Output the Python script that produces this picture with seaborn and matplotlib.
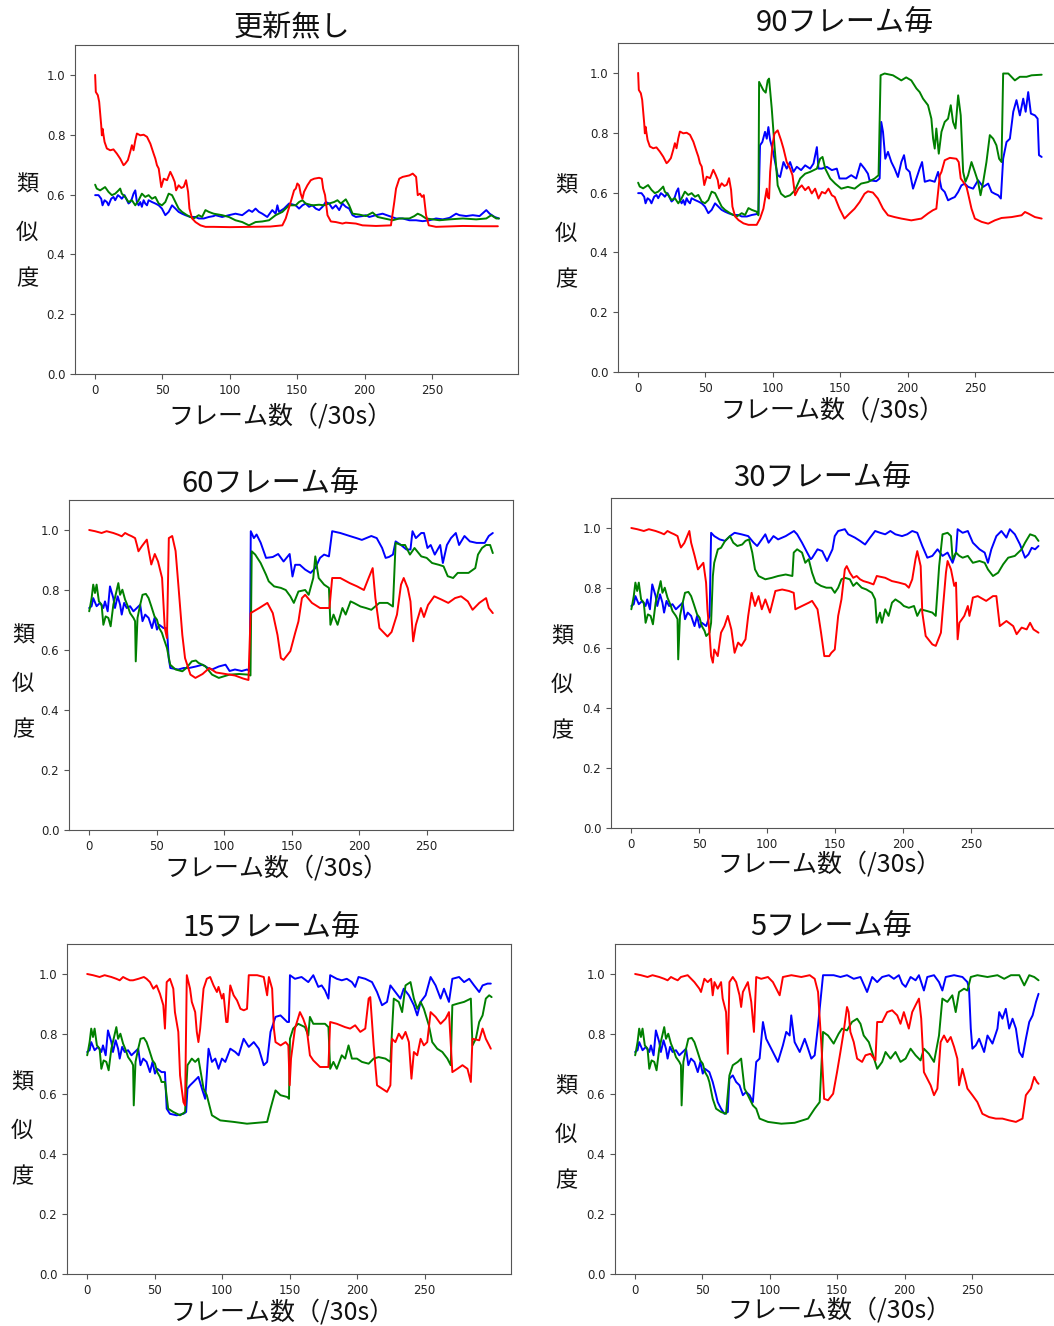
import matplotlib
matplotlib.use("Agg")
import matplotlib.pyplot as plt
import seaborn as sns
import pandas as pd

# ---------------- data: (frame, similarity) pairs ----------------
TITLES = ["更新無し", "90フレーム毎", "60フレーム毎", "30フレーム毎", "15フレーム毎", "5フレーム毎"]
XLABEL = "フレーム数（/30s）"
YLABEL_CHARS = ["類", "似", "度"]
XTICKS = [0, 50, 100, 150, 200, 250]
YTICKS = [0.0, 0.2, 0.4, 0.6, 0.8, 1.0]
YTICK_LABELS = ["0.0", "0.2", "0.4", "0.6", "0.8", "1.0"]

# common start of panels 1-2
A_RED = [(0,1.0),(0.5,0.943),(2,0.932),(3,0.91),(4.5,0.832),(5,0.798),(5.5,0.82),(7,0.776),(8.7,0.754),(11.2,0.748),(13.6,0.751),(16.1,0.737),(18.6,0.72),(21.1,0.698),(22.3,0.703),(24.3,0.715),(26,0.742),(27.3,0.765),(28.5,0.748),(29.8,0.781),(31,0.804),(33.5,0.798),(36,0.8),(38.5,0.793),(41,0.77),(43.4,0.737),(44.7,0.72),(45.9,0.698),(47.2,0.687),(48.4,0.648),(49.1,0.625),(50.9,0.653),(53.4,0.648),(55.8,0.676),(57.6,0.659),(59.1,0.642),(60.1,0.614),(62,0.631),(64,0.622),(65.8,0.626),(67.5,0.648),(69,0.609),(70,0.553),(72,0.52),(74.5,0.508),(78.2,0.497),(81.9,0.492),(88,0.492)]
A_BLUE = [(0,0.598),(2.5,0.598),(4.5,0.586),(5.5,0.564),(7,0.581),(8.7,0.575),(9.9,0.564),(11.9,0.586),(13.6,0.592),(14.9,0.581),(16.9,0.598),(18.6,0.592),(19.8,0.586),(21.8,0.598),(23.6,0.581),(24.8,0.57),(26.1,0.575),(27.3,0.586),(28.5,0.603),(29.8,0.614),(31,0.575),(32.3,0.564),(33.5,0.575),(34.7,0.559),(36,0.581),(37.2,0.57),(38.5,0.564),(39.7,0.581),(42.2,0.575),(44.7,0.57),(47.2,0.564),(49.6,0.553),(52.1,0.531),(54.6,0.542),(57.1,0.564),(59.6,0.553),(62,0.542),(64.5,0.536),(67,0.531),(70.7,0.525),(74.5,0.525),(76.9,0.52),(80.7,0.52),(84.4,0.525),(88,0.528)]
A_GREEN = [(0,0.633),(1.2,0.62),(3.7,0.614),(7.4,0.625),(9.9,0.609),(12.4,0.598),(14.9,0.603),(17.4,0.614),(18.6,0.62),(19.8,0.603),(22.3,0.592),(24.8,0.575),(27.3,0.581),(29.8,0.564),(32.3,0.581),(34.7,0.603),(37.2,0.592),(39.7,0.598),(42.2,0.586),(44.7,0.592),(47.2,0.57),(49.6,0.564),(52.1,0.575),(54.6,0.603),(57.1,0.598),(59.6,0.575),(62,0.553),(64.5,0.542),(68.2,0.531),(70.7,0.525),(73.2,0.52),(76.9,0.531),(79.4,0.525),(81.9,0.548),(84.4,0.542),(88,0.536)]

P1_RED_TAIL = [(100,0.491),(115,0.492),(130,0.493),(139,0.497),(141.5,0.52),(145.2,0.575),(147.7,0.614),(149,0.62),(150.1,0.637),(151.4,0.631),(152.6,0.603),(153.9,0.586),(155.1,0.609),(157.6,0.631),(160.1,0.648),(162.6,0.653),(166.3,0.656),(168.3,0.653),(169.3,0.62),(170.7,0.598),(172.5,0.531),(175,0.51),(178.7,0.508),(183.6,0.503),(186.1,0.506),(193.6,0.503),(198.5,0.497),(208.5,0.495),(219.6,0.497),(222.1,0.575),(223.4,0.62),(225.8,0.653),(228.3,0.659),(233.3,0.664),(235.8,0.67),(238.3,0.659),(239.5,0.598),(241.2,0.603),(242.7,0.592),(244,0.598),(245.7,0.531),(247.7,0.497),(253.1,0.492),(273,0.495),(287.9,0.494),(299,0.494)]
P1_BLUE_TAIL = [(89.3,0.531),(94.3,0.525),(99.3,0.531),(104.2,0.536),(109.2,0.531),(114.2,0.548),(116.6,0.542),(119.1,0.553),(121.6,0.542),(124.1,0.536),(127.8,0.525),(131.5,0.548),(134,0.536),(135.3,0.564),(136.5,0.542),(140.2,0.553),(144,0.57),(148.9,0.564),(151.4,0.553),(153.9,0.564),(156.3,0.57),(158.8,0.559),(161.3,0.564),(163.8,0.553),(166.3,0.548),(168.8,0.559),(171.2,0.575),(173.7,0.57),(176.2,0.553),(178.7,0.564),(181.2,0.548),(183.6,0.57),(186.1,0.559),(188.6,0.553),(191.1,0.531),(193.6,0.525),(198.5,0.528),(201,0.531),(203.5,0.525),(208.5,0.531),(213.4,0.536),(218.4,0.528),(223.4,0.52),(228.3,0.52),(233.3,0.514),(238.3,0.514),(243.2,0.511),(248.2,0.514),(253.1,0.52),(258.1,0.517),(263.1,0.522),(268,0.536),(270.5,0.531),(275.5,0.528),(280.4,0.531),(285.4,0.528),(290.4,0.548),(292.9,0.536),(296.6,0.525),(299.8,0.52)]
P1_GREEN_TAIL = [(94.3,0.531),(99.3,0.525),(104.2,0.514),(109.2,0.508),(114.2,0.497),(119.1,0.508),(124.1,0.51),(129.1,0.514),(134,0.531),(139,0.542),(144,0.564),(148.9,0.564),(151.4,0.575),(153.9,0.581),(156.3,0.57),(161.3,0.564),(166.3,0.566),(170,0.564),(173.7,0.57),(177.4,0.575),(179.9,0.581),(182.4,0.57),(186.1,0.584),(188.6,0.564),(191.1,0.536),(196.1,0.533),(201,0.528),(206,0.54),(209.7,0.525),(214.7,0.52),(220.9,0.514),(225.8,0.52),(233.3,0.52),(237,0.528),(239.5,0.536),(242,0.531),(245.7,0.52),(250.7,0.517),(255.6,0.514),(263.1,0.517),(273,0.52),(282.9,0.517),(290.4,0.52),(294.1,0.531),(297.8,0.52),(299.8,0.52)]

P2_RED_TAIL = [(90.5,0.513),(93,0.546),(95.5,0.613),(96.2,0.585),(97.2,0.58),(98,0.669),(99.7,0.758),(101.2,0.797),(103.6,0.808),(106.1,0.775),(107.9,0.747),(110.3,0.702),(112.8,0.68),(114.6,0.658),(116.5,0.591),(119,0.613),(121.5,0.624),(124,0.608),(126.5,0.619),(128.9,0.597),(131.4,0.613),(133.9,0.58),(136.4,0.602),(138.9,0.597),(141.3,0.613),(143.8,0.591),(146,0.585),(149.5,0.546),(153.2,0.513),(157,0.53),(160.7,0.546),(164.4,0.568),(168.1,0.596),(170.6,0.604),(174.3,0.6),(178,0.58),(181.8,0.546),(185.5,0.524),(190.4,0.518),(195.4,0.513),(202.8,0.507),(210.3,0.513),(215.2,0.53),(218.9,0.541),(221.4,0.546),(224,0.658),(225.2,0.669),(227.6,0.708),(231.4,0.716),(236.3,0.713),(238,0.702),(239.5,0.647),(241.3,0.636),(243.8,0.619),(245,0.596),(247.5,0.546),(250,0.513),(255,0.502),(259.9,0.496),(264.8,0.507),(269.8,0.515),(277.3,0.518),(284.7,0.524),(287.2,0.535),(289.6,0.53),(294.6,0.518),(299.6,0.513)]
P2_BLUE_TAIL = [(89.3,0.53),(90.5,0.758),(92.2,0.769),(94.2,0.803),(95.5,0.78),(96.7,0.819),(98,0.775),(99.7,0.747),(101.7,0.702),(103.6,0.658),(105.4,0.652),(107.9,0.702),(110.3,0.68),(112.8,0.702),(115.3,0.669),(117.8,0.686),(121,0.675),(124,0.691),(127.7,0.68),(130.2,0.697),(132.7,0.752),(133.9,0.68),(136.4,0.68),(140.1,0.686),(143.8,0.675),(147.5,0.68),(149.5,0.647),(154.5,0.647),(158.2,0.658),(161.9,0.647),(165.1,0.697),(168.1,0.68),(170.6,0.663),(171.8,0.641),(176.8,0.638),(179.3,0.647),(180.5,0.836),(181.8,0.803),(183.5,0.713),(185.5,0.736),(188,0.702),(190.4,0.68),(192.9,0.652),(195.4,0.702),(197.4,0.725),(199.1,0.68),(201.6,0.669),(204.1,0.613),(206.6,0.647),(209,0.68),(210.8,0.702),(212.8,0.636),(216.5,0.641),(220.2,0.636),(222.7,0.669),(225.2,0.613),(227.6,0.602),(230.1,0.574),(232.6,0.58),(235.1,0.585),(237.6,0.602),(240,0.624),(242.5,0.63),(245,0.619),(248.7,0.613),(252.4,0.641),(256.2,0.619),(259.9,0.63),(262.4,0.602),(264.8,0.596),(267.3,0.591),(269.3,0.58),(271,0.713),(273.5,0.769),(276,0.78),(278.5,0.87),(280.9,0.909),(283.4,0.858),(285.9,0.914),(287.7,0.87),(289.6,0.936),(291.6,0.864),(294.6,0.858),(296.6,0.847),(297.6,0.725),(299.6,0.719)]
P2_GREEN_TAIL = [(89.3,0.524),(89.8,0.97),(93,0.942),(94.7,0.934),(96.2,0.975),(97.2,0.981),(99.2,0.881),(101.2,0.758),(103.6,0.624),(106.1,0.596),(109.1,0.585),(112.8,0.591),(116.5,0.608),(120.3,0.647),(124,0.663),(127.7,0.669),(132.7,0.68),(135.1,0.713),(136.9,0.719),(138.9,0.68),(142.6,0.647),(146.3,0.63),(150.8,0.613),(155.7,0.619),(160.7,0.613),(165.6,0.63),(170.6,0.635),(175.6,0.647),(178.5,0.658),(180,0.992),(183,0.998),(189.2,0.992),(195.4,0.975),(199,0.985),(202.8,0.975),(206.6,0.948),(209,0.936),(211.5,0.914),(215.2,0.892),(217.7,0.847),(219,0.78),(220.2,0.747),(221.4,0.814),(223.2,0.73),(225.2,0.803),(227.6,0.836),(230.1,0.847),(232.1,0.892),(233.8,0.836),(235.6,0.814),(237.6,0.925),(239.5,0.858),(241.3,0.669),(243,0.636),(245,0.658),(247.5,0.702),(250,0.669),(252.4,0.636),(254.2,0.591),(256.2,0.636),(258.6,0.702),(261.1,0.792),(263.6,0.78),(266,0.758),(268,0.713),(269.8,0.702),(271,0.998),(274.8,0.998),(279.7,0.975),(283.4,0.987),(288.4,0.987),(292.1,0.992),(299.6,0.994)]

# common start of panels 3-6
B_RED = [(0,1.0),(4.3,0.996),(9.2,0.99),(12.9,0.996),(17.9,0.99),(21.6,0.984),(24.1,0.979),(26.6,0.99),(29.1,0.984),(31.6,0.979)]
B_BLUE = [(0,0.74),(1.8,0.746),(3,0.773),(5.5,0.746),(8,0.757),(10.5,0.74),(11.7,0.762),(13.7,0.729),(15.4,0.812),(17.9,0.773),(19.1,0.74),(21.1,0.779),(22.9,0.751),(24.1,0.718),(25.9,0.757),(27.8,0.74),(30.3,0.746),(32.8,0.729),(35.3,0.74),(37.8,0.751),(39.5,0.696),(41.5,0.718),(44,0.707),(46.5,0.673),(48.4,0.707),(50.2,0.668),(51.9,0.684),(55.1,0.673)]
B_GREEN = [(0,0.729),(0.5,0.74),(1.8,0.773),(3,0.818),(4.3,0.79),(5.5,0.818),(7.2,0.762),(9.2,0.751),(10.5,0.684),(12.2,0.712),(14.2,0.707),(15.9,0.679),(17.9,0.751),(19.6,0.784),(21.6,0.823),(22.9,0.784),(24.6,0.801),(26.6,0.768),(28.6,0.746),(30.3,0.723),(32.8,0.707),(34,0.696),(34.5,0.562),(35.8,0.707),(37.8,0.751),(39.5,0.784),(42,0.787),(44,0.773),(46,0.746),(48.4,0.712),(50.2,0.701),(51.9,0.673),(53.9,0.657),(55.1,0.64)]

P3_RED_TAIL = [(34,0.973),(35.3,0.951),(36.5,0.929),(39,0.946),(42.7,0.968),(44,0.934),(46,0.885),(48.6,0.92),(51,0.895),(54,0.84),(56,0.673),(57.6,0.64),(59,0.973),(61.5,0.98),(64,0.93),(66,0.82),(69,0.65),(71,0.573),(75,0.518),(78.7,0.507),(84,0.52),(89,0.54),(94,0.525),(101,0.52),(108,0.515),(114,0.505),(118,0.5),(119.6,0.723),(126,0.74),(132,0.757),(136,0.723),(139.5,0.65),(142,0.573),(144,0.567),(149,0.596),(152.6,0.657),(155,0.695),(157.6,0.773),(160,0.784),(165,0.757),(171,0.74),(178,0.74),(180,0.84),(186,0.84),(193,0.823),(198.5,0.812),(203.5,0.8),(207,0.84),(210,0.873),(212,0.773),(215,0.673),(221,0.645),(224,0.66),(228,0.718),(231,0.818),(233,0.84),(236,0.806),(238,0.762),(240,0.629),(242,0.684),(245.7,0.74),(248,0.71),(251,0.75),(255.6,0.779),(261,0.768),(266,0.757),(271,0.773),(275.5,0.779),(280.5,0.762),(284,0.734),(289,0.757),(294,0.773),(296,0.74),(299,0.723)]
P3_BLUE_TAIL = [(57.6,0.673),(58.9,0.573),(60.1,0.54),(66,0.535),(70,0.54),(74,0.54),(79,0.545),(84,0.551),(88,0.54),(91,0.535),(96,0.545),(101,0.551),(104,0.53),(108,0.535),(113,0.53),(117,0.535),(119,0.53),(119.7,0.996),(122,0.973),(124,0.985),(127,0.958),(131,0.907),(136,0.91),(140,0.92),(144,0.895),(148.5,0.92),(150.6,0.845),(152.6,0.884),(156,0.884),(160,0.868),(164,0.857),(167.5,0.873),(171,0.907),(174,0.918),(177.6,0.912),(180,0.996),(186,0.99),(193,0.98),(198,0.973),(202,0.967),(209,0.98),(213,0.973),(217,0.94),(219.6,0.907),(222,0.91),(225,0.918),(227,0.962),(231,0.95),(235,0.935),(238,0.935),(239.5,0.996),(242,0.973),(246,0.99),(248,0.99),(250.6,0.94),(253,0.95),(256,0.918),(260,0.95),(262,0.89),(265,0.95),(268,0.973),(271.6,0.99),(274,0.95),(278,0.98),(282,0.962),(287,0.957),(293,0.957),(296,0.98),(299,0.99)]
P3_GREEN_TAIL = [(57.6,0.607),(60,0.551),(64,0.535),(69,0.529),(72,0.54),(76,0.562),(79,0.565),(81,0.557),(86,0.546),(91,0.518),(96,0.507),(104,0.518),(111,0.52),(117.5,0.518),(119.5,0.515),(120.4,0.929),(123,0.918),(127,0.89),(131,0.851),(133,0.829),(137,0.812),(142,0.807),(145.6,0.8),(149,0.779),(151.6,0.757),(155,0.795),(160,0.8),(162.6,0.784),(166,0.84),(167.5,0.912),(170,0.84),(174,0.818),(177.6,0.807),(178.7,0.684),(181,0.718),(184,0.684),(187.6,0.74),(190,0.718),(193.6,0.762),(196,0.757),(201,0.745),(205,0.74),(209,0.734),(215,0.757),(221,0.757),(225,0.745),(227,0.957),(231,0.95),(234,0.95),(237.6,0.918),(241,0.94),(246,0.912),(250,0.907),(254,0.89),(259,0.884),(262.5,0.879),(265.6,0.846),(269.6,0.84),(273,0.857),(281,0.857),(286,0.873),(288,0.918),(291,0.94),(294,0.95),(297,0.95),(299,0.923)]

P4_RED_TAIL = [(34,0.973),(35.3,0.951),(36.5,0.935),(39,0.95),(42.7,0.99),(44,0.951),(46.6,0.907),(49,0.862),(53,0.884),(55,0.818),(56,0.729),(57.5,0.651),(58.7,0.573),(60,0.551),(61,0.595),(63.6,0.573),(66,0.651),(68.5,0.673),(71,0.707),(73.6,0.662),(76,0.584),(78.6,0.618),(81,0.607),(84,0.629),(86,0.707),(88.5,0.784),(91,0.74),(93.6,0.773),(96,0.729),(98.6,0.762),(102,0.718),(106,0.79),(111,0.795),(116,0.79),(119.5,0.784),(120.7,0.729),(125.6,0.74),(130.6,0.751),(133,0.757),(137,0.729),(139.6,0.651),(142,0.573),(145.6,0.573),(147.2,0.584),(149.7,0.595),(152.2,0.707),(154.6,0.762),(157.1,0.862),(158.5,0.873),(160.8,0.851),(163.3,0.834),(165.8,0.84),(168.3,0.829),(170.8,0.823),(174.6,0.818),(178.2,0.812),(180.6,0.84),(186.8,0.834),(191.8,0.823),(196.8,0.818),(201.7,0.812),(204.2,0.801),(206.7,0.829),(209.1,0.896),(210.4,0.923),(212.9,0.873),(214.1,0.718),(216.6,0.64),(221.5,0.612),(224,0.607),(227.8,0.651),(229,0.718),(231.5,0.851),(232.7,0.89),(235.2,0.862),(237.6,0.807),(238.9,0.818),(240.1,0.629),(241.4,0.684),(245,0.707),(247.6,0.74),(248.8,0.707),(251.3,0.768),(254.9,0.773),(261.1,0.757),(266.1,0.773),(268.6,0.773),(271.1,0.673),(276,0.69),(281,0.673),(283.5,0.646),(287.2,0.668),(290.9,0.662),(293.4,0.684),(295.9,0.662),(299.6,0.651)]
P4_BLUE_TAIL = [(57.6,0.707),(58.7,0.984),(61,0.973),(65,0.962),(69,0.957),(72.6,0.973),(76,0.984),(81,0.979),(86,0.973),(90,0.951),(92.6,0.94),(96,0.962),(98.6,0.979),(101,0.951),(104.6,0.973),(108,0.962),(113.6,0.973),(119.7,0.99),(122,0.979),(125.6,0.951),(129.4,0.918),(132,0.896),(133,0.9),(137,0.929),(140.5,0.923),(144,0.89),(148,0.929),(149.7,0.973),(152.2,0.99),(157.1,0.996),(159.6,0.979),(164.5,0.968),(168.3,0.957),(172,0.945),(175.7,0.968),(179.4,0.99),(183.1,0.984),(186.8,0.979),(190.6,0.99),(194.3,0.979),(199.2,0.973),(203,0.979),(206.7,0.99),(210.4,0.984),(214.1,0.94),(217.8,0.901),(221.5,0.907),(225.3,0.929),(229,0.907),(232.7,0.918),(236.4,0.884),(238.9,0.918),(240.1,0.996),(243.8,0.984),(247.6,0.99),(251.3,0.951),(256.2,0.929),(260,0.918),(262.4,0.884),(264.9,0.929),(268.6,0.973),(272.3,0.99),(276,0.968),(278.5,0.996),(282.2,0.979),(286,0.945),(289.7,0.901),(292.2,0.912),(294.6,0.934),(297.1,0.929),(299.6,0.94)]
P4_GREEN_TAIL = [(57.5,0.651),(58.7,0.684),(60,0.84),(61,0.884),(63.7,0.929),(66,0.934),(69,0.957),(72.6,0.973),(75,0.951),(78,0.94),(81.6,0.945),(84,0.957),(86.6,0.962),(89,0.918),(91,0.862),(93.6,0.84),(98.6,0.829),(103.5,0.834),(108,0.84),(113.6,0.845),(118.5,0.84),(119.5,0.918),(122,0.929),(125.6,0.918),(128,0.884),(130.5,0.896),(133,0.851),(135.6,0.818),(139.6,0.807),(143.5,0.801),(147.2,0.801),(149.7,0.784),(152.2,0.801),(154.6,0.829),(157.1,0.834),(160.8,0.829),(163.3,0.807),(165.8,0.818),(169.5,0.801),(173,0.795),(177,0.784),(179.4,0.762),(180.6,0.684),(183,0.718),(184.4,0.684),(186.8,0.729),(189.3,0.707),(191.8,0.751),(194.3,0.762),(198,0.751),(200.5,0.74),(204.2,0.734),(208,0.74),(210.4,0.707),(212.9,0.729),(217.8,0.723),(221.5,0.718),(224,0.707),(226.5,0.873),(229,0.979),(232.7,0.984),(235.2,0.973),(236.4,0.896),(238.9,0.918),(241.4,0.907),(243.8,0.901),(247.6,0.907),(251.3,0.884),(256.2,0.89),(260,0.884),(262.4,0.862),(266.1,0.84),(269.9,0.851),(273.6,0.879),(277.3,0.901),(282.2,0.907),(287.2,0.929),(289.7,0.951),(293.4,0.979),(297.1,0.973),(299.6,0.957)]

P5_RED_TAIL = [(34,0.979),(38,0.984),(42,0.99),(44,0.984),(46.5,0.973),(49,0.951),(51.4,0.962),(53.9,0.934),(56.4,0.896),(57.6,0.818),(58.9,0.973),(61.3,0.984),(63.8,0.951),(65,0.873),(67.5,0.807),(68.8,0.662),(70,0.618),(71.3,0.573),(72.5,0.562),(73.8,0.996),(76.2,0.951),(77.5,0.907),(80,0.873),(81.2,0.807),(82.4,0.773),(83.7,0.818),(86.2,0.951),(88.6,0.984),(91.1,0.99),(93.6,0.962),(96.1,0.94),(97.3,0.957),(99.8,0.918),(101,0.934),(103,0.84),(104,0.84),(106,0.962),(108.5,0.929),(111,0.912),(113.5,0.884),(116,0.879),(118.4,0.884),(119.7,0.996),(125.9,0.996),(130.8,0.99),(133.3,0.929),(134.6,0.99),(137,0.951),(138.3,0.818),(139.5,0.773),(143.3,0.762),(147,0.773),(149,0.762),(150,0.629),(151,0.718),(153.9,0.818),(157.6,0.873),(160,0.851),(162.6,0.818),(165,0.729),(167.5,0.712),(172.5,0.69),(178.7,0.69),(180,0.84),(184.9,0.834),(191,0.823),(194.8,0.818),(198.5,0.829),(202.3,0.807),(206,0.818),(208.5,0.918),(209.7,0.923),(212.2,0.762),(214.7,0.629),(218.4,0.618),(222.1,0.607),(224.6,0.629),(225.8,0.784),(228.3,0.773),(230.8,0.801),(233.3,0.784),(235.8,0.807),(238.3,0.773),(240.2,0.651),(242,0.74),(244.5,0.729),(247,0.784),(249.4,0.762),(251.9,0.773),(254.4,0.873),(258.1,0.857),(261.8,0.834),(265.5,0.851),(268,0.873),(270.5,0.673),(274.2,0.684),(278,0.696),(281.7,0.684),(284.2,0.64),(285.4,0.784),(290.4,0.779),(292.9,0.818),(295.3,0.784),(297.8,0.762),(299,0.751)]
P5_BLUE_TAIL = [(57.6,0.673),(58.9,0.551),(61.3,0.534),(66.3,0.529),(71.3,0.534),(73.3,0.54),(74.3,0.618),(76.2,0.629),(78.7,0.64),(80,0.646),(82.4,0.657),(85,0.618),(87.4,0.584),(89.9,0.751),(92.4,0.707),(94.9,0.718),(97.3,0.684),(99.8,0.718),(102.3,0.707),(106,0.751),(109.7,0.74),(112.2,0.729),(115.9,0.784),(119.7,0.757),(123.4,0.773),(127.1,0.751),(130.8,0.696),(133.3,0.707),(135.8,0.807),(139.5,0.857),(143.2,0.862),(148.2,0.84),(149.5,0.84),(150.2,0.996),(153.9,0.984),(158.8,0.99),(163.8,0.973),(167.5,0.996),(171.2,0.957),(173.7,0.962),(176.2,0.945),(178.7,0.918),(180,0.996),(184.9,0.984),(188.6,0.979),(192.3,0.984),(196.1,0.973),(198.5,0.957),(201,0.99),(206,0.984),(211,0.973),(214.7,0.94),(218.4,0.896),(222.1,0.907),(224.6,0.962),(228.3,0.94),(232,0.918),(234.5,0.951),(238.3,0.929),(242,0.896),(244.5,0.862),(247,0.907),(250.7,0.929),(254.4,0.99),(258.1,0.962),(261.8,0.918),(264.3,0.951),(268,0.907),(270.5,0.984),(275.5,0.99),(279.2,0.973),(283,0.984),(286.6,0.962),(290.4,0.94),(292.9,0.962),(296.6,0.968),(299,0.968)]
P5_GREEN_TAIL = [(57.6,0.64),(60,0.551),(63.8,0.54),(68.8,0.529),(72.5,0.54),(74.3,0.696),(77.5,0.718),(80,0.707),(82.4,0.718),(83.7,0.684),(86.2,0.618),(88.6,0.596),(92.4,0.529),(98.6,0.512),(108.5,0.507),(118.4,0.501),(125.9,0.504),(133.3,0.507),(135.8,0.551),(139.5,0.612),(143.2,0.596),(148.2,0.59),(149.5,0.584),(150.2,0.784),(152.6,0.818),(156.3,0.834),(161.3,0.823),(163.8,0.795),(165,0.857),(167.5,0.834),(171.2,0.834),(176.2,0.834),(178.7,0.823),(180,0.684),(182.4,0.707),(184.9,0.684),(188.6,0.729),(191.1,0.718),(193.6,0.762),(196.1,0.718),(199.8,0.718),(203.5,0.707),(208.5,0.701),(212.2,0.718),(215.9,0.723),(220.9,0.718),(224.6,0.707),(227.1,0.918),(230.8,0.907),(233.3,0.873),(235.8,0.962),(239.5,0.973),(242,0.918),(244.5,0.884),(247,0.907),(249.4,0.884),(253.1,0.829),(255.6,0.773),(259.3,0.751),(263.1,0.74),(266.8,0.718),(269.3,0.696),(270.5,0.896),(274.2,0.901),(279.2,0.907),(284.2,0.918),(285.4,0.762),(287.9,0.784),(290.4,0.84),(292.9,0.862),(295.3,0.918),(297.8,0.929),(299.6,0.923)]

P6_RED_TAIL = [(34,0.99),(39,0.996),(44,0.973),(47.7,0.951),(48.9,0.94),(51.4,0.984),(53.9,0.973),(56.4,0.984),(57.6,0.929),(58.9,0.973),(61.3,0.951),(63.8,0.973),(65,0.918),(67.5,0.873),(68.8,0.734),(70,0.973),(72.5,0.99),(75,0.973),(77.5,0.929),(78.7,0.89),(80,0.94),(83.7,0.973),(86.2,0.907),(88.2,0.807),(89.9,0.99),(93.6,0.984),(98.6,0.99),(102.3,0.973),(104.8,0.951),(107.3,0.929),(109.7,0.99),(116,0.996),(123.4,0.99),(129.6,0.996),(133.3,0.984),(135.8,0.94),(138.3,0.762),(140.3,0.584),(143.2,0.579),(147,0.601),(149.9,0.673),(152.4,0.74),(154.8,0.807),(157.3,0.89),(158.5,0.873),(159.8,0.807),(162.3,0.773),(164.8,0.718),(168.5,0.707),(171,0.729),(174.7,0.734),(178.4,0.712),(179.7,0.84),(183.4,0.84),(187.1,0.873),(190.8,0.879),(194.6,0.862),(197,0.834),(199.5,0.873),(203.2,0.818),(205.7,0.873),(208.2,0.896),(210.7,0.918),(212.4,0.851),(214.4,0.673),(216.9,0.651),(219.4,0.629),(221.9,0.596),(224.4,0.618),(226.8,0.773),(229.3,0.795),(231.8,0.773),(234.3,0.79),(236.8,0.757),(239.2,0.718),(240.5,0.629),(243,0.684),(246.7,0.618),(250.4,0.596),(254.1,0.573),(257.8,0.534),(262.8,0.523),(267.8,0.518),(272.7,0.518),(277.7,0.512),(282.7,0.507),(287.6,0.518),(290.1,0.596),(293.8,0.618),(296.3,0.657),(298.3,0.64),(299.5,0.634)]
P6_BLUE_TAIL = [(57.6,0.64),(60.1,0.596),(61.3,0.573),(63.8,0.551),(66.3,0.534),(68.8,0.54),(70,0.651),(72.5,0.662),(75,0.64),(77.5,0.629),(80,0.596),(82.4,0.607),(85,0.596),(87.4,0.573),(89.9,0.707),(92.4,0.718),(94.9,0.84),(97.3,0.784),(99.8,0.762),(102.3,0.74),(106,0.707),(109.7,0.762),(112.2,0.807),(114.7,0.795),(115.9,0.862),(118.4,0.773),(122.2,0.74),(125.9,0.784),(128.4,0.751),(130.8,0.718),(133.3,0.729),(135.8,0.829),(139.5,0.996),(147.4,0.996),(152.4,0.99),(157.3,0.996),(162.3,0.984),(167.3,0.99),(172.2,0.94),(176,0.99),(179.7,0.973),(183.4,0.99),(188.4,0.996),(192.1,0.984),(195.8,0.996),(198.3,0.968),(200.8,0.957),(204.5,0.99),(208.2,0.979),(210.7,0.996),(214.4,0.945),(216.9,0.99),(221.9,0.996),(225.6,0.973),(228.1,0.945),(230.6,0.99),(236.8,0.996),(243,0.99),(246.7,0.973),(247.9,0.951),(249.2,0.818),(250.4,0.751),(252.9,0.762),(255.4,0.784),(259.1,0.74),(261.6,0.795),(265.3,0.768),(269,0.818),(270.3,0.873),(272.7,0.851),(275.2,0.884),(277.7,0.818),(280.2,0.851),(282.7,0.818),(285.2,0.74),(287.6,0.723),(290.1,0.784),(292.6,0.84),(295.1,0.862),(297.6,0.907),(299.5,0.934)]
P6_GREEN_TAIL = [(57.6,0.584),(60.1,0.551),(63.8,0.54),(67.5,0.534),(70,0.662),(72.5,0.696),(76.2,0.707),(78.7,0.718),(81.2,0.618),(83.7,0.596),(87.4,0.562),(89.9,0.551),(92.4,0.518),(98.6,0.507),(108.5,0.501),(118.4,0.504),(128.4,0.518),(133.3,0.551),(137,0.573),(139.5,0.807),(143.2,0.795),(147.4,0.768),(151.1,0.801),(153.6,0.818),(157.3,0.812),(161,0.84),(164.8,0.851),(167.3,0.834),(169.7,0.795),(173.5,0.773),(175.9,0.74),(179.7,0.684),(183.4,0.707),(185.9,0.74),(189.6,0.718),(193.3,0.74),(197,0.707),(200.8,0.718),(204.5,0.751),(208.2,0.729),(211.9,0.712),(214.4,0.751),(218.1,0.734),(221.9,0.707),(225.6,0.795),(228.1,0.918),(231.8,0.907),(235.5,0.929),(238,0.873),(240.5,0.94),(244.2,0.951),(246.7,0.945),(249.2,0.99),(254.1,0.996),(261.6,0.99),(269,0.996),(274,0.984),(279,0.996),(285.2,0.996),(288.9,0.962),(292.6,0.996),(296.3,0.99),(299.5,0.979)]

SERIES = [
    {"red": A_RED + P1_RED_TAIL, "blue": A_BLUE + P1_BLUE_TAIL, "green": A_GREEN + P1_GREEN_TAIL},
    {"red": A_RED + P2_RED_TAIL, "blue": A_BLUE + P2_BLUE_TAIL, "green": A_GREEN + P2_GREEN_TAIL},
    {"red": B_RED + P3_RED_TAIL, "blue": B_BLUE + P3_BLUE_TAIL, "green": B_GREEN + P3_GREEN_TAIL},
    {"red": B_RED + P4_RED_TAIL, "blue": B_BLUE + P4_BLUE_TAIL, "green": B_GREEN + P4_GREEN_TAIL},
    {"red": B_RED + P5_RED_TAIL, "blue": B_BLUE + P5_BLUE_TAIL, "green": B_GREEN + P5_GREEN_TAIL},
    {"red": B_RED + P6_RED_TAIL, "blue": B_BLUE + P6_BLUE_TAIL, "green": B_GREEN + P6_GREEN_TAIL},
]

# ---------------- layout (pixels) ----------------
W, H = 1054, 1326
AX_BOX = [(75, 45, 518, 374), (618, 43, 1061, 372), (69, 500, 513, 830),
          (611, 498, 1058, 828), (67, 944, 511, 1274), (615, 944, 1058, 1274)]
TITLE_POS = [(292, 28), (845, 23), (270, 484), (822, 478), (271, 928), (831, 927)]
XLABEL_POS = [(280, 417), (832, 410), (276, 869), (829, 864), (282, 1312), (839, 1310)]
YLABEL_POS = [(27, 185), (566, 186), (23, 636), (562, 637), (22, 1083), (566, 1087)]
YLABEL_STEP = 47

sns.set_theme(style="white")
plt.rcParams["font.family"] = ["Noto Sans CJK JP", "DejaVu Sans"]

fig = plt.figure(figsize=(W / 100, H / 100), dpi=100)
COLORS = {"red": "#ff0000", "blue": "#0000ff", "green": "#008000"}

for i in range(6):
    l, t, r, b = AX_BOX[i]
    ax = fig.add_axes([l / W, 1 - b / H, (r - l) / W, (b - t) / H])
    rows = []
    for name in ["red", "blue", "green"]:
        for f, v in SERIES[i][name]:
            rows.append({"frame": f, "value": v, "series": name})
    df = pd.DataFrame(rows)
    sns.lineplot(data=df, x="frame", y="value", hue="series", hue_order=["blue", "green", "red"],
                 palette=COLORS, estimator=None, sort=False, legend=False,
                 linewidth=1.4, ax=ax)
    ax.set_xlim(-14.95, 313.95)
    ax.set_ylim(0, 1.1)
    ax.set_xticks(XTICKS)
    ax.set_xticklabels([str(x) for x in XTICKS], fontsize=8.5, family="DejaVu Sans", color="#222222")
    ax.set_yticks(YTICKS)
    ax.set_yticklabels(YTICK_LABELS, fontsize=8.5, family="DejaVu Sans", color="#222222")
    ax.tick_params(left=True, bottom=True, length=3.5, width=0.8, color="#555555", pad=3.5)
    ax.set_xlabel("")
    ax.set_ylabel("")
    for sp in ax.spines.values():
        sp.set_color("#555555")
        sp.set_linewidth(0.8)

    tx, ty = TITLE_POS[i]
    fig.text(tx / W, 1 - ty / H, TITLES[i], fontsize=21, ha="center", va="center", color="#111111")
    xx, xy = XLABEL_POS[i]
    fig.text(xx / W, 1 - xy / H, XLABEL, fontsize=18, ha="center", va="center", color="#111111")
    yx, yy = YLABEL_POS[i]
    for k, ch in enumerate(YLABEL_CHARS):
        fig.text(yx / W, 1 - (yy + k * YLABEL_STEP) / H, ch, fontsize=16, ha="center", va="center",
                 color="#111111")

fig.savefig("out.png", dpi=100)
